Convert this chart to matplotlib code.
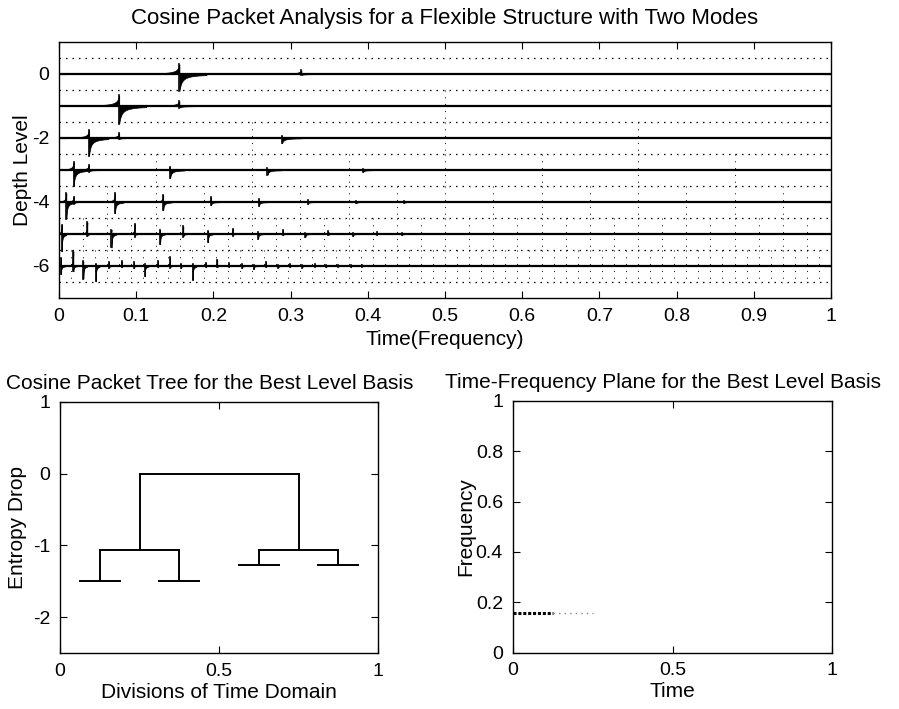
import numpy as np
import matplotlib
matplotlib.use("Agg")
import matplotlib.pyplot as plt

plt.rcParams['font.family'] = ['Liberation Sans', 'DejaVu Sans']
plt.rcParams['font.size'] = 14

# ---- cosine packet table: spikes per depth level (time, upper peak, lower peak)
level0 = [(0.156, 0.30, -0.53), (0.314, 0.12, -0.03)]
level1 = [(0.078, 0.33, -0.55), (0.156, 0.15, -0.05)]
level2 = [(0.039, 0.24, -0.55), (0.078, 0.15, -0.03), (0.289, 0.06, -0.16)]
level3 = [(0.019, 0.24, -0.50), (0.039, 0.17, -0.05), (0.144, 0.10, -0.25),
          (0.270, 0.05, -0.15), (0.394, 0.03, -0.06)]
level4 = [(0.0095, 0.27, -0.52), (0.019, 0.17, -0.05), (0.0725, 0.27, -0.35),
          (0.135, 0.22, -0.25), (0.197, 0.15, -0.10), (0.259, 0.08, -0.12),
          (0.322, 0.05, -0.06), (0.385, 0.04, -0.04), (0.447, 0.03, -0.03)]
level5 = [(0.0035, 0.29, -0.54), (0.0367, 0.37, -0.06), (0.068, 0.14, -0.42),
          (0.098, 0.31, -0.08), (0.131, 0.12, -0.31), (0.161, 0.24, -0.08),
          (0.193, 0.10, -0.25), (0.225, 0.17, -0.05), (0.258, 0.05, -0.15),
          (0.290, 0.12, -0.04), (0.319, 0.04, -0.10), (0.349, 0.08, -0.03),
          (0.381, 0.03, -0.06), (0.412, 0.05, -0.02), (0.444, 0.02, -0.04)]
level6 = [(0.0026, 0.25, -0.25), (0.0186, 0.46, -0.17), (0.0315, 0.15, -0.40),
          (0.0475, 0.06, -0.48), (0.065, 0.13, -0.05), (0.081, 0.15, -0.04),
          (0.097, 0.13, -0.06), (0.111, 0.05, -0.32), (0.128, 0.15, -0.04),
          (0.144, 0.27, -0.05), (0.158, 0.06, -0.06), (0.173, 0.05, -0.43),
          (0.190, 0.10, -0.03), (0.205, 0.20, -0.04), (0.220, 0.08, -0.03),
          (0.237, 0.05, -0.06), (0.252, 0.03, -0.10), (0.268, 0.12, -0.03),
          (0.284, 0.04, -0.05), (0.299, 0.06, -0.03), (0.315, 0.03, -0.05),
          (0.331, 0.05, -0.02), (0.346, 0.03, -0.04), (0.362, 0.04, -0.02),
          (0.378, 0.02, -0.03), (0.393, 0.03, -0.02)]
levels = [level0, level1, level2, level3, level4, level5, level6]
spike_width = [0.0035, 0.0035, 0.0025, 0.0018, 0.0011, 0.0006, 0.0005]

top_xticks = [0, 0.1, 0.2, 0.3, 0.4, 0.5, 0.6, 0.7, 0.8, 0.9, 1]
top_xticklabels = ['0', '0.1', '0.2', '0.3', '0.4', '0.5', '0.6', '0.7', '0.8', '0.9', '1']
top_yticks = [-6, -4, -2, 0]

# ---- best level basis tree: (x0, x1, y) horizontals and (x, y0, y1) verticals
tree_horiz = [(0.25, 0.75, 0.0),
              (0.125, 0.375, -1.06), (0.625, 0.875, -1.06),
              (0.0625, 0.1875, -1.5), (0.3125, 0.4375, -1.5),
              (0.5625, 0.6875, -1.27), (0.8125, 0.9375, -1.27)]
tree_vert = [(0.25, 0.0, -1.06), (0.75, 0.0, -1.06),
             (0.125, -1.06, -1.5), (0.375, -1.06, -1.5),
             (0.625, -1.06, -1.27), (0.875, -1.06, -1.27)]

# ---- time-frequency plane tiles: (t0, t1, frequency)
tf_strong = (0.0, 0.125, 0.157)
tf_faint = (0.125, 0.25, 0.157)

W, H = 899, 709
fig = plt.figure(figsize=(W / 100, H / 100), dpi=100)


def style_axes(ax):
    ax.tick_params(direction='in', top=True, right=True, length=5, width=0.8,
                   labelsize=14, pad=7)
    for s in ax.spines.values():
        s.set_linewidth(1.0)


def draw_spike(ax, base, t0, up, down, w):
    dt = np.linspace(0, 10 * w, 40)
    decay = (w / (dt + w)) ** 1.15
    tl = t0 - dt[::-1]
    yl = base + up * decay[::-1]
    tr = t0 + dt
    yr = base + down * decay
    ax.fill_between(tl, base, yl, color='black', lw=0.5)
    ax.fill_between(tr, base, yr, color='black', lw=0.5)
    ax.plot([t0, t0], [base + up, base + down], color='black', lw=1.2)


# ---------------- top panel ----------------
ax1 = fig.add_axes([59 / W, 1 - 298 / H, 772 / W, 256 / H])
for d, spikes in enumerate(levels):
    base = -d
    ax1.plot([0, 1], [base, base], color='black', lw=1.6)
    for (t0, up, down) in spikes:
        draw_spike(ax1, base, t0, up, down, spike_width[d])
    # block boundaries of this level
    nb = 2 ** d
    for k in range(1, nb):
        ax1.plot([k / nb, k / nb], [base + 0.5, base - 0.5], color='black',
                 lw=0.7, ls=(0, (1, 6)))
for yv in np.arange(0.5, -7, -1.0):
    ax1.plot([0, 1], [yv, yv], color='black', lw=0.9, ls=(0, (1.2, 4)))
ax1.set_xlim(0, 1)
ax1.set_ylim(-7, 1)
ax1.set_xticks(top_xticks)
ax1.set_xticklabels(top_xticklabels)
ax1.set_yticks(top_yticks)
ax1.set_yticklabels([str(v) for v in top_yticks])
style_axes(ax1)
ax1.set_title('Cosine Packet Analysis for a Flexible Structure with Two Modes',
              fontsize=16, pad=13)
ax1.set_xlabel('Time(Frequency)', fontsize=15, labelpad=4)
ax1.set_ylabel('Depth Level', fontsize=15, labelpad=0)

# ---------------- bottom left: tree ----------------
ax2 = fig.add_axes([60 / W, 1 - 653 / H, 318 / W, 251.3 / H])
for (x0, x1, y) in tree_horiz:
    ax2.plot([x0, x1], [y, y], color='black', lw=1.4)
for (x, y0, y1) in tree_vert:
    ax2.plot([x, x], [y0, y1], color='black', lw=1.4)
ax2.set_xlim(0, 1)
ax2.set_ylim(-2.5, 1)
ax2.set_xticks([0, 0.5, 1])
ax2.set_xticklabels(['0', '0.5', '1'])
ax2.set_yticks([-2, -1, 0, 1])
ax2.set_yticklabels(['-2', '-1', '0', '1'])
style_axes(ax2)
ax2.set_title('Cosine Packet Tree for the Best Level Basis', fontsize=15,
              pad=9, x=0.47)
ax2.set_xlabel('Divisions of Time Domain', fontsize=15, labelpad=2)
ax2.set_ylabel('Entropy Drop', fontsize=15, labelpad=4)

# ---------------- bottom right: time-frequency plane ----------------
ax3 = fig.add_axes([512.7 / W, 1 - 652.7 / H, 319.6 / W, 252 / H])
ax3.plot([tf_strong[0], tf_strong[1]], [tf_strong[2], tf_strong[2]],
         color='black', lw=2.2, ls=(0, (1, 0.6)))
ax3.plot([tf_faint[0], tf_faint[1]], [tf_faint[2], tf_faint[2]],
         color='#888888', lw=1.0, ls=(0, (1, 3)))
ax3.set_xlim(0, 1)
ax3.set_ylim(0, 1)
ax3.set_xticks([0, 0.5, 1])
ax3.set_xticklabels(['0', '0.5', '1'])
ax3.set_yticks([0, 0.2, 0.4, 0.6, 0.8, 1])
ax3.set_yticklabels(['0', '0.2', '0.4', '0.6', '0.8', '1'])
style_axes(ax3)
ax3.set_title('Time-Frequency Plane for the Best Level Basis', fontsize=15,
              pad=9, x=0.47)
ax3.set_xlabel('Time', fontsize=15, labelpad=2)
ax3.set_ylabel('Frequency', fontsize=15, labelpad=0)

fig.savefig('out.png', dpi=100)
